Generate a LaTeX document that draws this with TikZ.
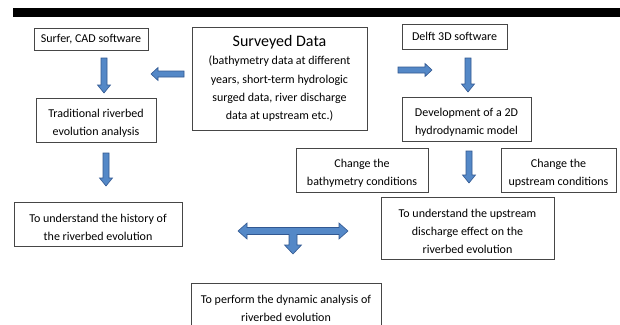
\documentclass[tikz,border=0pt]{standalone}
\usepackage{fontspec}
\setmainfont{Carlito}
\definecolor{arrfill}{RGB}{84,136,199}
\definecolor{arredge}{RGB}{50,88,145}
\definecolor{boxedge}{RGB}{70,70,70}
\newcommand{\topstrut}{\rule{0pt}{15pt}}
\begin{document}
\begin{tikzpicture}[x=1pt,y=-1pt,
  box/.style={draw=boxedge,line width=0.7pt,fill=white,align=center,inner sep=0pt,
    font=\fontsize{12}{18.3}\selectfont},
  blk/.style={fill=arrfill,draw=arredge,line width=0.6pt,line join=miter},
  darr/.pic={\path[blk] (-3,0) -- (3,0) -- (3,#1-8) -- (6.5,#1-8) -- (0,#1) -- (-6.5,#1-8) -- (-3,#1-8) -- cycle;}
]
\clip (0,0) rectangle (620,324);
\fill[white] (0,0) rectangle (620,324);
% top bar
\fill[black] (13,8) rectangle (620,17);

% boxes
\node[box,minimum width=114pt,minimum height=22pt] (surfer) at (91,39) {Surfer, CAD software};
\node[box,minimum width=175pt,minimum height=103pt] (surveyed) at (279.5,78.5)
  {{\fontsize{16}{18.3}\selectfont Surveyed Data}\\(bathymetry data at different\\years, short-term hydrologic\\surged data, river discharge\\data at upstream etc.)};
\node[box,minimum width=120pt,minimum height=44pt] (trad) at (96,120) {\topstrut Traditional riverbed\\evolution analysis};
\node[box,minimum width=168pt,minimum height=44pt] (hist) at (98,224) {\topstrut To understand the history of\\the riverbed evolution};
\node[box,minimum width=105pt,minimum height=25pt] (delft) at (454.5,36.5) {Delft 3D software};
\node[box,minimum width=129pt,minimum height=44pt] (dev) at (466.5,119) {\topstrut Development of a 2D\\hydrodynamic model};
\node[box,minimum width=132pt,minimum height=44pt] (bathy) at (362,170) {\topstrut Change the\\bathymetry conditions};
\node[box,minimum width=115pt,minimum height=44pt] (upcond) at (558.5,170) {\topstrut Change the\\upstream conditions};
\node[box,minimum width=173pt,minimum height=62pt] (upeff) at (467.5,228) {\topstrut To understand the upstream\\discharge effect on the\\riverbed evolution};
\node[box,minimum width=190pt,minimum height=44pt] (perf) at (286,305) {\topstrut To perform the dynamic analysis of\\riverbed evolution};

% block arrows
\pic at (104,58) {darr=35};
\pic at (106,153) {darr=33};
\pic at (468,58) {darr=34};
\pic at (469,151) {darr=32};
% left arrow
\path[blk] (151,74) -- (158,67.5) -- (158,71) -- (184,71) -- (184,77) -- (158,77) -- (158,80.5) -- cycle;
% right arrow
\path[blk] (398,67) -- (425,67) -- (425,63.5) -- (432,70) -- (425,76.5) -- (425,73) -- (398,73) -- cycle;
% double arrow with stem
\path[blk] (238,231) -- (247,223) -- (247,227.5) -- (339,227.5) -- (339,223) -- (348,231)
  -- (339,239) -- (339,234.5) -- (297,234.5) -- (297,245) -- (301.5,245) -- (293,254)
  -- (284.5,245) -- (289,245) -- (289,234.5) -- (247,234.5) -- (247,239) -- cycle;
\end{tikzpicture}
\end{document}
